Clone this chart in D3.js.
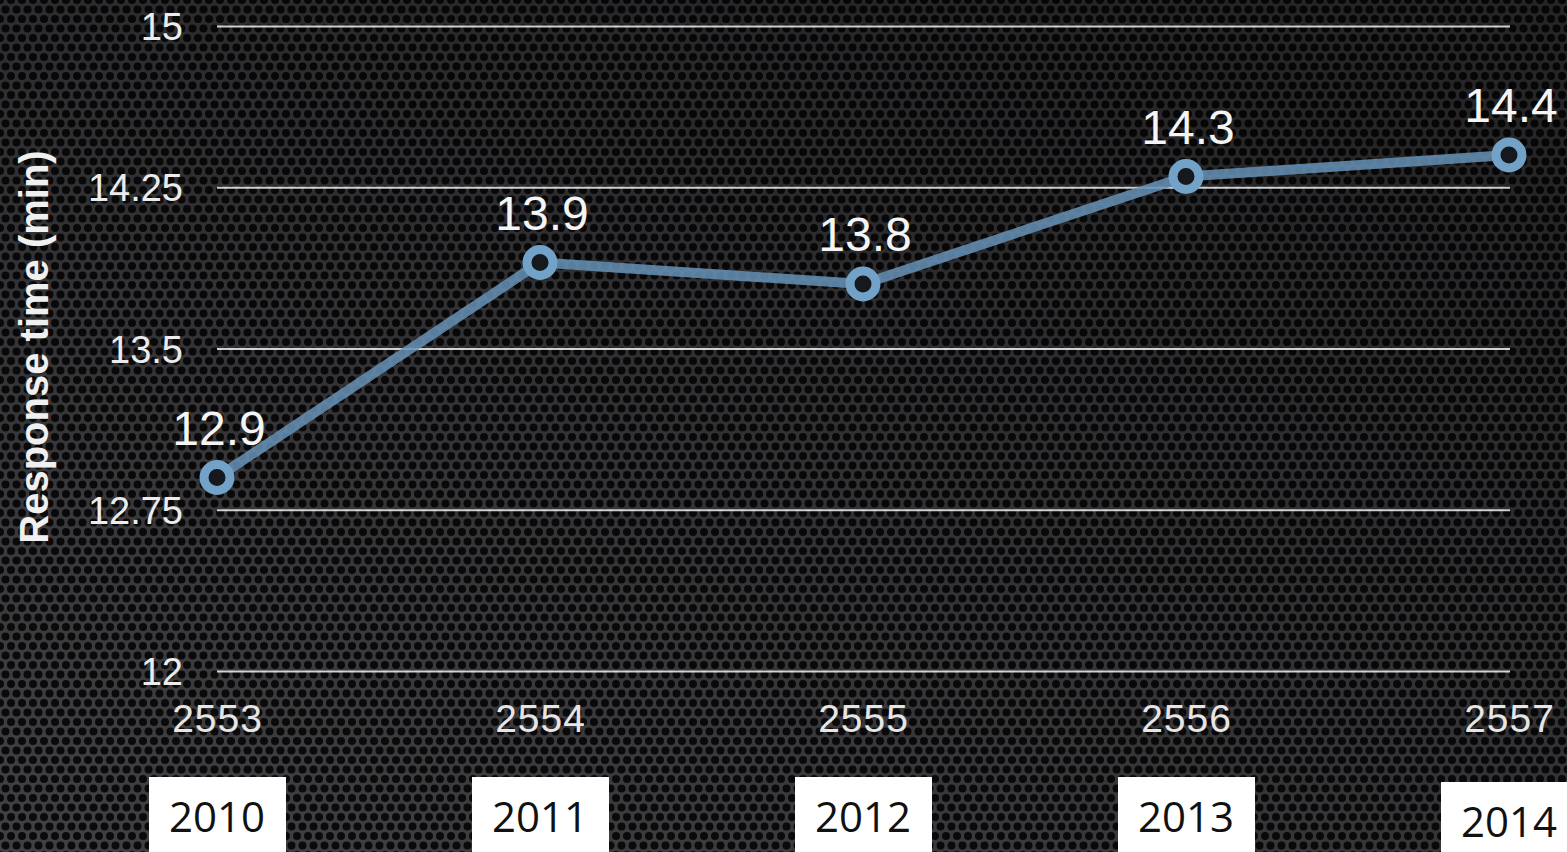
<!DOCTYPE html>
<html lang="en">
<head>
    <meta charset="UTF-8">
    <title>Response time</title>
    <script src="https://d3js.org/d3.v7.min.js"></script>
    <style>
        html, body { margin: 0; padding: 0; background: #1c1c1e; overflow: hidden; }
        svg { display: block; }
        .grid line { stroke: #f2f2f2; stroke-opacity: 0.85; stroke-width: 2px; }
        .grid text { fill: #ececec; font-family: "Liberation Sans", Arial, sans-serif; font-size: 38px; }
        .xaxis text { fill: #e6e6e6; font-family: "Liberation Sans", Arial, sans-serif; font-size: 39px; letter-spacing: 1px; }
        .value { fill: #f5f5f5; font-family: "Liberation Sans", Arial, sans-serif; font-size: 48px; text-anchor: middle; }
        .ylabel { fill: #f0f0f0; font-family: "Liberation Sans", Arial, sans-serif; font-weight: bold; font-size: 40px; }
        .yearbox text { fill: #111; font-family: "Open Sans", sans-serif; font-size: 42px; text-anchor: middle; }
    </style>
</head>
<body>
    <svg width="1567" height="852"></svg>

    <script>
        // values
        const thaiYears = ["2553", "2554", "2555", "2556", "2557"];
        const years = ["2010", "2011", "2012", "2013", "2014"];
        const responseTime = [12.9, 13.9, 13.8, 14.3, 14.4];
        const yTicks = [12, 12.75, 13.5, 14.25, 15];

        const width = 1567, height = 852;
        const svg = d3.select("svg");

        // perforated metal background
        const defs = svg.append("defs");
        const pat = defs.append("pattern")
            .attr("id", "holes")
            .attr("patternUnits", "userSpaceOnUse")
            .attr("width", 11).attr("height", 19);
        pat.append("rect").attr("width", 11).attr("height", 19).attr("fill", "#444447");
        [[0, 0], [11, 0], [5.5, 9.5], [0, 19], [11, 19]].forEach(p => {
            pat.append("circle").attr("cx", p[0]).attr("cy", p[1]).attr("r", 4).attr("fill", "#0b0b0d");
        });

        const shade = defs.append("linearGradient")
            .attr("id", "shade")
            .attr("x1", "0").attr("y1", "1").attr("x2", "0.6").attr("y2", "0");
        shade.append("stop").attr("offset", "0").attr("stop-color", "#000").attr("stop-opacity", 0.05);
        shade.append("stop").attr("offset", "1").attr("stop-color", "#000").attr("stop-opacity", 0.45);

        svg.append("rect").attr("width", width).attr("height", height).attr("fill", "url(#holes)");
        svg.append("rect").attr("width", width).attr("height", height).attr("fill", "url(#shade)");

        const x = d3.scalePoint()
            .domain(thaiYears)
            .range([217, 1509]);

        const y = d3.scaleLinear()
            .domain([12, 15])
            .range([671, 26]);

        // gridlines + y labels
        const grid = svg.append("g")
            .attr("class", "grid")
            .attr("transform", "translate(217,0)")
            .call(d3.axisLeft(y)
                .tickValues(yTicks)
                .tickSize(-(1510 - 217))
                .tickPadding(34)
                .tickFormat(d => String(d)));
        grid.select(".domain").remove();
        grid.selectAll("text").attr("dy", "0.36em");

        // x labels
        const xa = svg.append("g")
            .attr("class", "xaxis")
            .attr("transform", "translate(0,671)")
            .call(d3.axisBottom(x).tickSize(0).tickPadding(33));
        xa.select(".domain").remove();

        svg.append("text")
            .attr("class", "ylabel")
            .attr("transform", "translate(48,347) rotate(-90)")
            .attr("text-anchor", "middle")
            .text("Response time (min)");

        // line + markers
        const line = d3.line()
            .x((d, i) => x(thaiYears[i]))
            .y(d => y(d));

        svg.append("path")
            .datum(responseTime)
            .attr("d", line)
            .attr("fill", "none")
            .attr("stroke", "#6792b6")
            .attr("stroke-opacity", 0.85)
            .attr("stroke-width", 10)
            .attr("stroke-linejoin", "round");

        svg.selectAll(".dot")
            .data(responseTime)
            .enter().append("circle")
            .attr("class", "dot")
            .attr("cx", (d, i) => x(thaiYears[i]))
            .attr("cy", d => y(d))
            .attr("r", 13)
            .attr("fill", "#15181c")
            .attr("stroke", "#72a2c8")
            .attr("stroke-width", 9);

        svg.selectAll(".value")
            .data(responseTime)
            .enter().append("text")
            .attr("class", "value")
            .attr("x", (d, i) => x(thaiYears[i]) + 2)
            .attr("y", d => y(d) - 33)
            .text(d => d.toFixed(1));

        // Gregorian year boxes
        const box = svg.selectAll(".yearbox")
            .data(years)
            .enter().append("g")
            .attr("class", "yearbox")
            .attr("transform", (d, i) => `translate(${x(thaiYears[i])},${i === 4 ? 782 : 777})`);

        box.append("rect")
            .attr("x", -68).attr("width", 137)
            .attr("height", 80)
            .attr("fill", "#fff");

        box.append("text")
            .attr("y", 55)
            .text(d => d);
    </script>
</body>
</html>
